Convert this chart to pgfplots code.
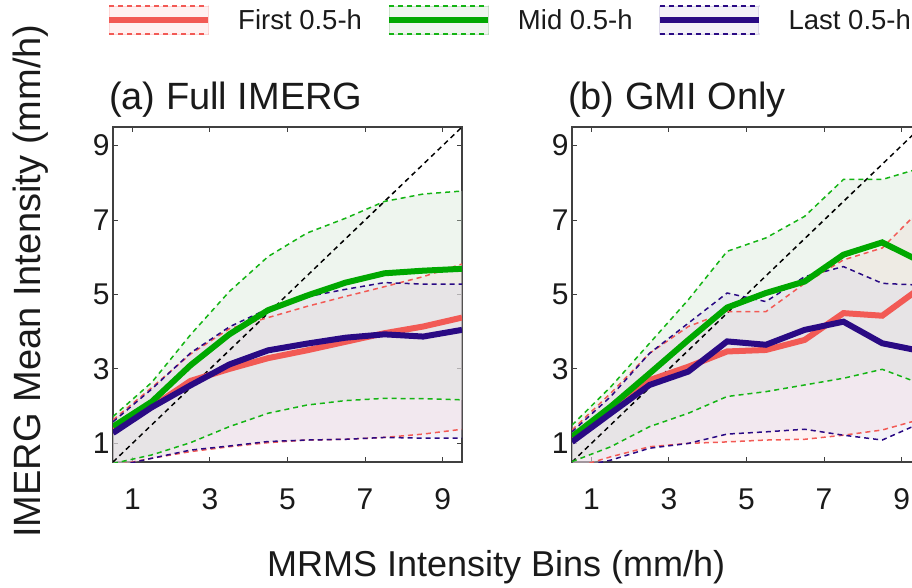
\documentclass[border=0pt]{standalone}
\usepackage{pgfplots}
\pgfplotsset{compat=1.18}
\usepackage{pgfplotstable}
\usepgfplotslibrary{fillbetween}
\usepackage{fontspec}
\setmainfont{Liberation Sans}

\definecolor{cR}{HTML}{F25A55}
\definecolor{cG}{HTML}{00A800}
\definecolor{cGd}{HTML}{14B414}
\definecolor{cB}{HTML}{2A0A84}
\definecolor{fR}{RGB}{255,215,215}
\definecolor{fG}{RGB}{206,226,206}
\definecolor{fB}{RGB}{220,215,235}
\definecolor{axc}{HTML}{404040}
\definecolor{txt}{HTML}{1A1A1A}

% Panel (a): Full IMERG
\pgfplotstableread{
x    rm    rl    ru    gm    gl    gu    bm    bl    bu
0.5  1.35  0.40  1.63  1.45  0.46  1.72  1.28  0.37  1.58
1.5  1.98  0.60  2.50  2.12  0.69  2.64  1.97  0.60  2.46
2.5  2.68  0.78  3.40  3.10  1.02  3.92  2.56  0.82  3.43
3.5  3.00  0.91  4.08  3.93  1.45  5.08  3.12  0.93  4.13
4.5  3.29  1.02  4.38  4.58  1.81  6.02  3.50  1.05  4.62
5.5  3.50  1.09  4.68  4.97  2.03  6.65  3.68  1.09  4.94
6.5  3.73  1.11  4.95  5.32  2.15  7.05  3.84  1.11  5.14
7.5  3.96  1.16  5.21  5.57  2.21  7.50  3.93  1.16  5.32
8.5  4.14  1.25  5.48  5.64  2.20  7.70  3.87  1.14  5.28
9.5  4.38  1.38  5.82  5.69  2.17  7.78  4.05  1.14  5.28
}\dataA

% Panel (b): GMI Only
\pgfplotstableread{
x    rm    rl    ru    gm    gl    gu    bm    bl    bu
0.5  1.09  0.33  1.36  1.18  0.51  1.49  1.04  0.33  1.31
1.5  1.90  0.64  2.35  1.99  0.91  2.52  1.81  0.55  2.26
2.5  2.70  0.91  3.42  2.88  1.45  3.69  2.57  0.87  3.42
3.5  3.06  1.00  4.14  3.78  1.81  4.86  2.93  1.00  4.23
4.5  3.47  1.04  4.54  4.65  2.26  6.16  3.74  1.25  5.04
5.5  3.51  1.09  4.54  5.04  2.39  6.52  3.65  1.31  4.81
6.5  3.78  1.11  5.30  5.35  2.57  7.10  4.05  1.38  5.48
7.5  4.50  1.22  5.93  6.07  2.75  8.09  4.27  1.22  5.75
8.5  4.43  1.36  6.25  6.40  2.99  8.09  3.69  1.09  5.30
9.5  5.19  1.65  7.30  5.88  2.60  8.40  3.48  1.55  5.25
}\dataB

\pgfplotsset{
  panel/.style={
    scale only axis, width=349pt, height=335pt,
    xmin=0.5, xmax=9.5, ymin=0.5, ymax=9.5,
    xtick={1,3,5,7,9}, ytick={1,3,5,7,9},
    tick align=inside, major tick length=5pt,
    every tick/.style={axc, line width=1pt},
    axis line style={axc, line width=1.4pt},
    tick label style={font=\fontsize{30}{36}\selectfont, text=txt},
    /pgf/number format/assume math mode=true,
    xticklabel style={yshift=-23pt},
    title style={at={(axis description cs:0,1)}, anchor=base west, inner sep=0pt,
      yshift=12pt, xshift=-4pt, font=\fontsize{38}{44}\selectfont, text=txt},
  },
  dsh/.style={line width=1.5pt, dash pattern=on 5pt off 4pt},
  thk/.style={line width=6pt},
}

\newcommand{\legimg}[3]{%
\addlegendimage{legend image code/.code={
  \fill[#1, fill opacity=0.35] (0pt,-14pt) rectangle (99pt,14pt);
  \draw[#2, line width=1.5pt, dash pattern=on 5pt off 4pt] (0pt,-14pt) -- (99pt,-14pt);
  \draw[#2, line width=1.5pt, dash pattern=on 5pt off 4pt] (0pt,14pt) -- (99pt,14pt);
  \draw[#3, line width=6pt] (0pt,0pt) -- (99pt,0pt);
}}}

\newcommand{\panelplots}[1]{%
  \addplot[draw=none, name path=ru, forget plot] table[x=x,y=ru]{#1};
  \addplot[draw=none, name path=rl, forget plot] table[x=x,y=rl]{#1};
  \addplot[draw=none, name path=gu, forget plot] table[x=x,y=gu]{#1};
  \addplot[draw=none, name path=gl, forget plot] table[x=x,y=gl]{#1};
  \addplot[draw=none, name path=bu, forget plot] table[x=x,y=bu]{#1};
  \addplot[draw=none, name path=bl, forget plot] table[x=x,y=bl]{#1};
  \addplot[fR, fill opacity=0.35, forget plot] fill between[of=ru and rl];
  \addplot[fG, fill opacity=0.35, forget plot] fill between[of=gu and gl];
  \addplot[fB, fill opacity=0.35, forget plot] fill between[of=bu and bl];
  \addplot[black, dsh, forget plot] coordinates {(0.5,0.5) (9.5,9.5)};
  \addplot[cR, dsh, forget plot] table[x=x,y=ru]{#1};
  \addplot[cR, dsh, forget plot] table[x=x,y=rl]{#1};
  \addplot[cGd, dsh, forget plot] table[x=x,y=gu]{#1};
  \addplot[cGd, dsh, forget plot] table[x=x,y=gl]{#1};
  \addplot[cB, dsh, forget plot] table[x=x,y=bu]{#1};
  \addplot[cB, dsh, forget plot] table[x=x,y=bl]{#1};
  \addplot[cR, thk, forget plot] table[x=x,y=rm]{#1};
  \addplot[cG, thk, forget plot] table[x=x,y=gm]{#1};
  \addplot[cB, thk, forget plot] table[x=x,y=bm]{#1};
}

\begin{document}
\begin{tikzpicture}
\begin{axis}[panel, at={(113pt,125pt)}, anchor=south west,
  title={(a) Full IMERG},
  ylabel={IMERG Mean Intensity (mm/h)},
  ylabel style={at={(axis description cs:-0.209,0.54)}, anchor=base, font=\fontsize{38}{44}\selectfont, text=txt},
  xlabel={MRMS Intensity Bins (mm/h)},
  xlabel style={at={(axis description cs:1.098,-0.343)}, anchor=base, font=\fontsize{36}{42}\selectfont, text=txt},
  legend columns=3,
  legend style={draw=none, fill=none, at={(axis description cs:-0.02,1.319)}, anchor=west,
    inner sep=0pt, nodes={inner sep=0pt, font=\fontsize{27.5}{33}\selectfont, text=txt},
    /tikz/every odd column/.style={column sep=27pt},
    /tikz/every even column/.style={column sep=24pt}},
]
\legimg{fR}{cR}{cR}
\addlegendentry{First 0.5-h}
\legimg{fG}{cGd}{cG}
\addlegendentry{Mid 0.5-h}
\legimg{fB}{cB}{cB}
\addlegendentry{Last 0.5-h}
\panelplots{\dataA}
\end{axis}
\begin{axis}[panel, at={(572pt,125pt)}, anchor=south west,
  title={(b) GMI Only},
]
\panelplots{\dataB}
\end{axis}
\pgfresetboundingbox
\path[use as bounding box] (0pt,0pt) rectangle (912pt,587pt);
\end{tikzpicture}
\end{document}
